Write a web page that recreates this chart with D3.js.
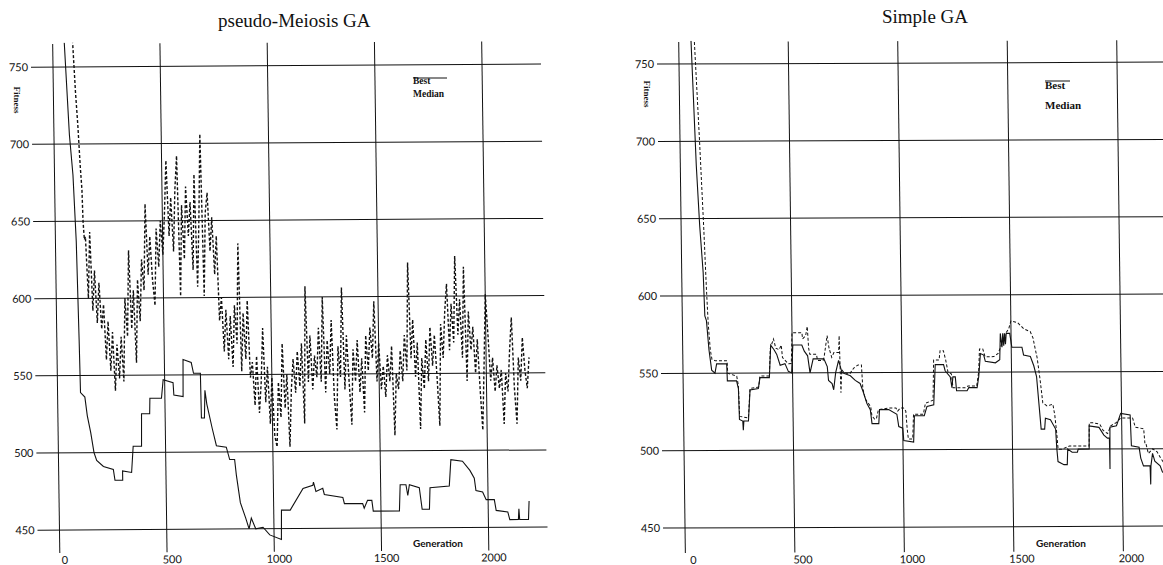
<!DOCTYPE html>
<html>
<head>
<meta charset="utf-8">
<script src="https://cdn.jsdelivr.net/npm/d3@7"></script>
<style>
  body { margin: 0; background: #fff; }
  svg { display: block; }
</style>
</head>
<body>
<script>
const genTicks = [0, 500, 1000, 1500, 2000];
const fitTicks = [450, 500, 550, 600, 650, 700, 750];

// pseudo-Meiosis GA, best (solid)
const meioBestGen = [48, 54, 72, 86, 97, 104, 107, 127, 137, 152, 166, 178, 209, 255, 262, 298, 298, 340, 349, 388, 390, 428, 430, 484, 493, 539, 542, 585, 587, 625, 635, 667, 669, 683, 687, 695, 719, 737, 783, 798, 821, 828, 845, 869, 884, 895, 915, 949, 980, 1034, 1036, 1077, 1138, 1184, 1187, 1198, 1230, 1237, 1323, 1330, 1415, 1422, 1438, 1458, 1464, 1586, 1591, 1618, 1626, 1634, 1680, 1692, 1726, 1730, 1820, 1829, 1883, 1917, 1937, 1944, 1975, 1991, 2029, 2037, 2091, 2100, 2140, 2143, 2146, 2187, 2191];
const meioBestFit = [790, 766, 706, 680, 637, 573, 539, 536, 524, 513, 500, 495, 491, 489, 482, 482, 488, 487, 504, 504, 525, 525, 535, 535, 547, 545, 537, 536, 560, 558, 551, 551, 522, 522, 540, 531, 515, 504, 503, 495, 495, 485, 467, 457, 450, 457, 450, 451, 446, 443, 462, 462, 476, 478, 480, 474, 476, 472, 470, 466, 466, 463, 468, 468, 461, 461, 478, 478, 471, 478, 476, 462, 462, 476, 477, 494, 493, 487, 482, 474, 473, 468, 468, 461, 460, 455, 455, 462, 455, 455, 467];

// pseudo-Meiosis GA, median (dashed): steep start, then one reading every 10 generations
const meioMedHeadGen = [86, 93, 103, 112, 120, 127, 130, 135];
const meioMedHeadFit = [790, 766, 734, 712, 687, 670, 650, 638];
const meioMedFirstGen = 140;
const meioMedStepGen = 10;
const meioMedFit = [
  640, 600, 643, 592, 618, 584, 610, 580,
  596, 560, 585, 553, 578, 540, 570, 548, 575,
  546, 600, 575, 631, 580, 605, 558, 612, 585,
  625, 605, 661, 615, 640, 612, 595, 645, 620, 650, 628,
  655, 689, 640, 665, 630, 670, 692, 601, 660, 625, 672, 640, 662, 618, 680, 607, 650, 706, 601, 655, 668, 630,
  652, 615, 640,
  585, 600, 565, 592, 560, 588, 555, 595, 570, 635, 552, 590, 560, 598, 548,
  558, 530, 562, 525, 545, 580, 532, 555, 518, 548, 510, 503, 545, 522, 570, 528, 550, 503, 540,
  560, 538, 565, 542, 570, 518, 607, 545, 575, 540, 562, 548, 580, 545, 600, 538, 572, 550, 585, 535,
  514, 568, 548, 606, 540, 575, 545, 517, 566, 545, 572, 538, 560, 525, 575, 552, 580, 560, 597, 545,
  570, 540, 555,
  535, 562, 545, 568, 510, 550, 540, 565, 545, 575, 552, 622, 560, 585, 548, 570, 514, 560, 540, 572,
  545, 580, 555,
  575, 548, 516, 582, 560, 590, 608, 565, 595, 570, 626, 575, 598, 560, 619, 545, 590, 565, 580, 550, 572,
  540, 513, 555, 601,
  575, 545, 560, 538, 555, 540, 552, 517, 550, 538, 565, 586, 540, 517, 560, 545, 573, 552, 540, 560
];

// Simple GA, best (solid)
const simpBestGen = [52, 56, 73, 85, 98, 103, 110, 120, 131, 146, 154, 200, 202, 244, 252, 255, 270, 272, 275, 296, 305, 343, 351, 394, 402, 417, 429, 444, 466, 481, 496, 503, 544, 555, 570, 580, 595, 644, 659, 664, 680, 687, 697, 711, 726, 764, 786, 808, 823, 838, 853, 860, 891, 895, 937, 974, 982, 1000, 1004, 1049, 1054, 1099, 1112, 1143, 1152, 1190, 1197, 1220, 1227, 1232, 1243, 1248, 1296, 1304, 1342, 1350, 1359, 1374, 1381, 1427, 1447, 1451, 1458, 1462, 1466, 1470, 1474, 1478, 1494, 1503, 1549, 1556, 1587, 1602, 1614, 1623, 1632, 1648, 1652, 1675, 1698, 1702, 1707, 1734, 1749, 1752, 1772, 1796, 1800, 1850, 1851, 1896, 1918, 1934, 1943, 1944, 1946, 1976, 1996, 2039, 2043, 2078, 2085, 2097, 2127, 2129, 2131, 2139, 2149, 2173, 2183, 2195];
const simpBestFit = [790, 766, 684, 645, 615, 587, 584, 565, 552, 550, 556, 556, 545, 545, 540, 520, 519, 513, 519, 519, 539, 540, 547, 547, 568, 565, 562, 555, 556, 551, 550, 568, 568, 564, 561, 550, 559, 559, 554, 545, 543, 539, 550, 558, 550, 548, 545, 543, 537, 530, 526, 517, 517, 526, 526, 523, 515, 514, 506, 505, 522, 522, 528, 529, 555, 555, 551, 547, 540, 547, 547, 538, 538, 540, 540, 547, 562, 561, 557, 556, 558, 575, 566, 575, 567, 575, 568, 575, 575, 566, 566, 561, 560, 554, 547, 530, 513, 513, 520, 519, 513, 501, 492, 490, 490, 500, 498, 498, 500, 500, 515, 514, 509, 507, 507, 487, 514, 515, 523, 522, 502, 501, 494, 489, 489, 477, 489, 497, 492, 489, 485, 484];

// Simple GA, median (dashed)
const simpMedGen = [66, 71, 89, 103, 112, 118, 126, 133, 148, 202, 204, 245, 252, 256, 296, 305, 345, 351, 394, 400, 415, 425, 440, 450, 455, 480, 495, 500, 545, 548, 562, 570, 575, 580, 610, 615, 640, 645, 660, 668, 680, 690, 712, 715, 720, 725, 735, 760, 780, 800, 815, 820, 830, 845, 855, 860, 872, 880, 890, 935, 970, 978, 990, 1005, 1015, 1020, 1025, 1045, 1050, 1095, 1105, 1140, 1145, 1170, 1175, 1190, 1200, 1210, 1225, 1232, 1245, 1290, 1300, 1340, 1350, 1355, 1370, 1380, 1420, 1440, 1476, 1490, 1500, 1530, 1558, 1588, 1600, 1608, 1618, 1630, 1641, 1660, 1687, 1695, 1703, 1708, 1725, 1760, 1850, 1852, 1870, 1900, 1915, 1935, 1950, 1975, 1995, 2040, 2050, 2062, 2100, 2105, 2110, 2120, 2140, 2160, 2180, 2195];
const simpMedFit = [790, 766, 701, 645, 604, 582, 565, 559, 558, 558, 550, 548, 542, 522, 521, 540, 541, 548, 548, 566, 572, 566, 565, 568, 560, 556, 556, 576, 576, 572, 574, 580, 566, 562, 562, 558, 558, 560, 574, 566, 560, 563, 563, 574, 537, 552, 550, 549, 553, 555, 555, 540, 533, 530, 528, 522, 520, 520, 526, 527, 527, 525, 527, 527, 525, 514, 507, 507, 523, 523, 530, 532, 558, 558, 564, 564, 558, 550, 549, 540, 540, 540, 541, 541, 550, 565, 565, 560, 560, 562, 575, 578, 583, 582, 578, 576, 572, 566, 559, 545, 530, 528, 529, 522, 510, 500, 500, 502, 502, 517, 517, 516, 512, 510, 515, 517, 520, 520, 520, 514, 513, 503, 503, 497, 500, 498, 493, 490, 490];

const width = 1163, height = 565;

const svg = d3.select("body").append("svg")
    .attr("width", width)
    .attr("height", height)
    .style("background", "#fff");

const ink = "#111";

function drawPanel(p) {
    const x = d3.scaleLinear().domain([0, 2000]).range([p.x0, p.x2000]);
    const y = d3.scaleLinear().domain([450, 750]).range([p.y450, p.y750]);

    // scanned page is slightly sheared, so tilt the whole plot a little
    const g = svg.append("g")
        .attr("transform", "matrix(1," + p.shearY + "," + p.shearX + ",1," + (-p.shearX * p.y750) + "," + (-p.shearY * p.x0) + ")");

    g.append("clipPath").attr("id", p.id + "-clip")
        .append("rect")
        .attr("x", p.x0 - 10).attr("y", p.gridTop - 1)
        .attr("width", p.gridRight - p.x0 + 10).attr("height", p.gridBottom - p.gridTop);

    // horizontal grid
    g.selectAll(".hgrid").data(fitTicks).enter().append("line")
        .attr("x1", p.gridLeft).attr("x2", p.gridRight)
        .attr("y1", d => y(d)).attr("y2", d => y(d))
        .attr("stroke", ink).attr("stroke-width", 1);

    // vertical grid
    g.selectAll(".vgrid").data(genTicks).enter().append("line")
        .attr("x1", d => x(d)).attr("x2", d => x(d))
        .attr("y1", p.gridTop).attr("y2", p.gridBottom)
        .attr("stroke", ink).attr("stroke-width", 1);

    g.selectAll(".ylab").data(fitTicks).enter().append("text")
        .attr("x", p.yLabelX).attr("y", d => y(d))
        .attr("dy", "0.36em")
        .attr("text-anchor", "end")
        .attr("font-family", "Lato, 'Open Sans', sans-serif")
        .attr("font-size", "11px")
        .attr("fill", ink)
        .text(d => d);

    g.selectAll(".xlab").data(genTicks).enter().append("text")
        .attr("x", d => x(d) + p.xLabelShift).attr("y", p.xLabelY)
        .attr("text-anchor", "middle")
        .attr("font-family", "Lato, 'Open Sans', sans-serif")
        .attr("font-size", "11px")
        .attr("fill", ink)
        .text(d => d);

    const line = d3.line().x(d => x(d[0])).y(d => y(d[1]));
    const plot = g.append("g").attr("clip-path", "url(#" + p.id + "-clip)");

    plot.append("path")
        .datum(p.median)
        .attr("d", line)
        .attr("fill", "none")
        .attr("stroke", ink)
        .attr("stroke-width", p.medWidth)
        .attr("stroke-dasharray", "3,2");

    plot.append("path")
        .datum(p.best)
        .attr("d", line)
        .attr("fill", "none")
        .attr("stroke", ink)
        .attr("stroke-width", 1.1);

    // title
    svg.append("text")
        .attr("x", p.titleX).attr("y", p.titleY)
        .attr("font-family", "'Liberation Serif', 'Times New Roman', serif")
        .attr("font-size", "19px")
        .attr("fill", ink)
        .text(p.title);

    svg.append("text")
        .attr("transform", "translate(" + p.fitX + "," + p.fitY + ") rotate(90)")
        .attr("text-anchor", "middle")
        .attr("dy", "0.35em")
        .attr("font-family", "'Liberation Serif', serif")
        .attr("font-weight", "bold")
        .attr("font-size", "9px")
        .attr("fill", ink)
        .text("Fitness");

    svg.append("text")
        .attr("x", p.genX).attr("y", p.genY)
        .attr("text-anchor", "middle")
        .attr("font-family", "Lato, sans-serif")
        .attr("font-weight", "bold")
        .attr("font-size", "10px")
        .attr("fill", ink)
        .text("Generation");

    // legend
    svg.append("line")
        .attr("x1", p.legX).attr("x2", p.legX + p.legLine)
        .attr("y1", p.legLineY).attr("y2", p.legLineY)
        .attr("stroke", ink).attr("stroke-width", 1);
    svg.append("text")
        .attr("x", p.legX).attr("y", p.bestY)
        .attr("font-family", "'Liberation Serif', serif")
        .attr("font-weight", "bold")
        .attr("font-size", p.legSize)
        .attr("fill", ink)
        .text("Best");
    svg.append("text")
        .attr("x", p.legX).attr("y", p.medY)
        .attr("font-family", "'Liberation Serif', serif")
        .attr("font-weight", "bold")
        .attr("font-size", p.legSize)
        .attr("fill", ink)
        .text("Median");
}

const meioMedian = d3.zip(meioMedHeadGen, meioMedHeadFit)
    .concat(meioMedFit.map((f, i) => [meioMedFirstGen + i * meioMedStepGen, f]));

drawPanel({
    id: "meio",
    title: "pseudo-Meiosis GA", titleX: 218, titleY: 27,
    x0: 53, x2000: 482, y450: 530, y750: 67,
    shearX: 0.014, shearY: -0.006,
    gridLeft: 31, gridRight: 541, gridTop: 44, gridBottom: 553,
    yLabelX: 28, xLabelY: 564, xLabelShift: 5,
    fitX: 17, fitY: 100,
    genX: 438, genY: 547,
    legX: 413, legLine: 34, legLineY: 78, bestY: 84, medY: 97, legSize: "9.5px",
    medWidth: 1.4,
    best: d3.zip(meioBestGen, meioBestFit),
    median: meioMedian
});

drawPanel({
    id: "simp",
    title: "Simple GA", titleX: 882, titleY: 23,
    x0: 679, x2000: 1117, y450: 528, y750: 64,
    shearX: 0.013, shearY: -0.004,
    gridLeft: 657, gridRight: 1170, gridTop: 42, gridBottom: 553,
    yLabelX: 654, xLabelY: 564, xLabelShift: 8,
    fitX: 647, fitY: 94,
    genX: 1061, genY: 547,
    legX: 1045, legLine: 25, legLineY: 81, bestY: 89, medY: 109, legSize: "11px",
    medWidth: 1,
    best: d3.zip(simpBestGen, simpBestFit),
    median: d3.zip(simpMedGen, simpMedFit)
});
</script>
</body>
</html>
